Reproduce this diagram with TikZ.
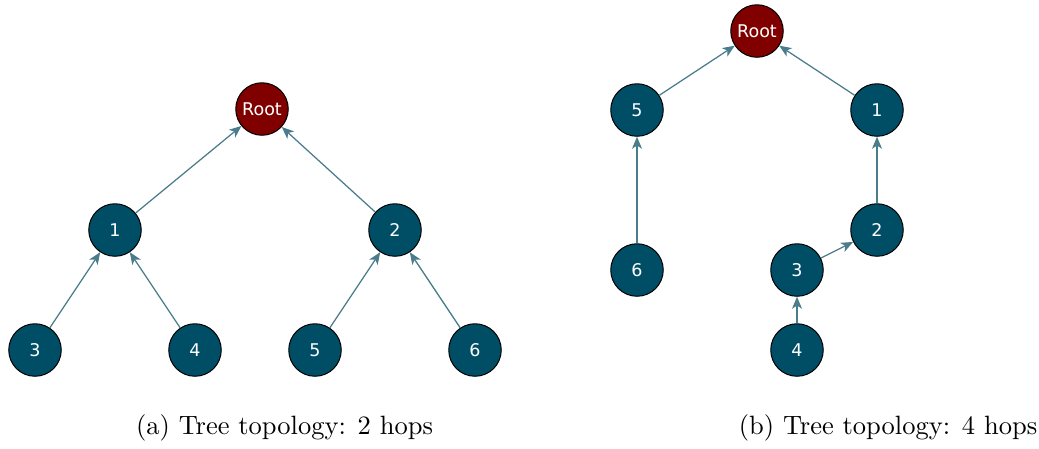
\documentclass[tikz,border=0pt]{standalone}
\usepackage{fontspec}
\newfontfamily\nodefont{DejaVu Sans}
\usetikzlibrary{arrows.meta,positioning}
\definecolor{nodeblue}{HTML}{004E66}
\definecolor{rootred}{HTML}{800000}
\definecolor{linkteal}{HTML}{4A7C8C}
\tikzset{
  mote/.style={circle,draw=black,fill=nodeblue,text=white,minimum size=21pt,inner sep=0pt,font=\nodefont\fontsize{7}{8}\selectfont},
  sink/.style={mote,fill=rootred},
  hop/.style={draw=linkteal,line width=0.5pt,-{Stealth[length=4.8pt,width=4pt,inset=1.3pt]}},
  caption/.style={font=\fontsize{10.6}{12}\selectfont}
}
\begin{document}
\begin{tikzpicture}[x=0.4pt,y=-0.4pt]
\useasboundingbox (0,0) rectangle (1039,448);
% (a) two hops
\node[sink] (aR) at (262,109) {Root};
\foreach \x/\y/\name in {115/230/1,395/230/2,35/350/3,195/350/4,315/350/5,475/350/6}
  \node[mote] (a\name) at (\x,\y) {\name};
\foreach \from/\to in {1/R,2/R,3/1,4/1,5/2,6/2}
  \draw[hop] (a\from) -- (a\to);
\node[caption] (capa) at (284.5,428) {(a) Tree topology: 2 hops};
% (b) four hops
\node[sink] (bR) at (757,31) {Root};
\foreach \x/\y/\name in {877/110/1,877/230/2,797/270/3,797/350/4,637/110/5,637/270/6}
  \node[mote] (b\name) at (\x,\y) {\name};
\foreach \from/\to in {1/R,5/R,2/1,3/2,4/3,6/5}
  \draw[hop] (b\from) -- (b\to);
\node[caption] (capb) at (888,428) {(b) Tree topology: 4 hops};
\end{tikzpicture}
\end{document}
